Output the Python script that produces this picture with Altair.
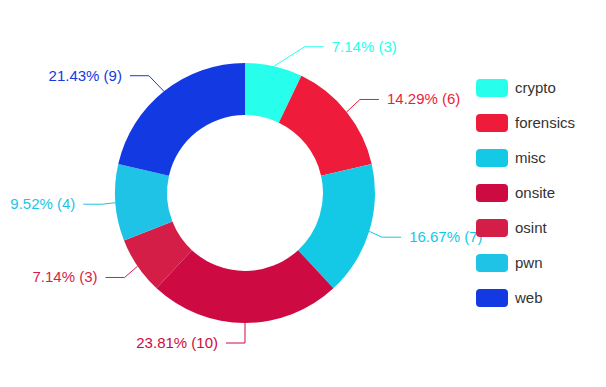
import math
import altair as alt
import pandas as pd

categories = ["crypto", "forensics", "misc", "onsite", "osint", "pwn", "web"]
counts = [3, 6, 7, 10, 3, 4, 9]
colors = ["#28FEEC", "#EE1C3A", "#13C9E6", "#CE0A43", "#D41E48", "#1FC3E6", "#1339E3"]

W, H = 590, 371
CX, CY = 237, 185
R_IN, R_OUT = 78, 130
LEN1, LEN2, GAP = 20, 19, 8
R_TEXT = 170

total = sum(counts)
pie_rows, line_rows, label_rows = [], [], []
cum = 0
for i, (c, n) in enumerate(zip(categories, counts)):
    mid = (cum + n / 2) / total * 2 * math.pi
    cum += n
    s, co = math.sin(mid), -math.cos(mid)
    side = 1 if s > 1e-9 else -1
    sx, sy = CX + R_OUT * s, CY + R_OUT * co
    ly = CY + (R_OUT + LEN1) * co
    dy = abs(ly - CY)
    if dy < R_OUT + LEN1 - 1e-6:
        dxt = math.sqrt(R_TEXT ** 2 - dy ** 2)
    else:
        dxt = LEN2 + GAP
    tx = CX + side * dxt
    ex = tx - side * GAP
    bx = ex - side * LEN2
    pie_rows.append({"category": c, "count": n, "idx": i})
    for k, (px, py) in enumerate([(sx, sy), (bx, ly), (ex, ly)]):
        line_rows.append({"category": c, "pt": k, "x": px, "y": py})
    label_rows.append({"category": c, "x": tx, "y": ly,
                       "side": "right" if side > 0 else "left",
                       "text": f"{n / total * 100:.2f}% ({n})"})

pie_df = pd.DataFrame(pie_rows)
line_df = pd.DataFrame(line_rows)
label_df = pd.DataFrame(label_rows)

color_scale = alt.Scale(domain=categories, range=colors)
xs = alt.Scale(domain=[0, W], nice=False, zero=False)
ys = alt.Scale(domain=[0, H], nice=False, zero=False, reverse=True)

ROUND_RECT = ("M-0.75,-0.5625 L0.75,-0.5625 Q1,-0.5625 1,-0.3125 L1,0.3125 "
              "Q1,0.5625 0.75,0.5625 L-0.75,0.5625 Q-1,0.5625 -1,0.3125 "
              "L-1,-0.3125 Q-1,-0.5625 -0.75,-0.5625 Z")

legend = alt.Legend(orient="none", legendX=468, legendY=64, title=None,
                    symbolType=ROUND_RECT, symbolSize=1024, symbolStrokeWidth=0,
                    symbolOpacity=1, labelFont="Liberation Sans", labelFontSize=15,
                    labelColor="#333333", labelOffset=7, rowPadding=10, padding=0)

arcs = alt.Chart(pie_df).mark_arc(innerRadius=R_IN, outerRadius=R_OUT).encode(
    theta=alt.Theta("count:Q", stack=True),
    color=alt.Color("category:N", scale=color_scale, legend=legend, sort=categories),
    order=alt.Order("idx:Q"),
    x=alt.value(CX),
    y=alt.value(CY),
)

lines = alt.Chart(line_df).mark_line(strokeWidth=1).encode(
    x=alt.X("x:Q", scale=xs, axis=None),
    y=alt.Y("y:Q", scale=ys, axis=None),
    detail="category:N",
    order="pt:Q",
    color=alt.Color("category:N", scale=color_scale, legend=legend, sort=categories),
)

def text_layer(side, align):
    return alt.Chart(label_df).transform_filter(alt.datum.side == side).mark_text(
        font="Liberation Sans", fontSize=15, align=align, baseline="middle"
    ).encode(
        x=alt.X("x:Q", scale=xs, axis=None),
        y=alt.Y("y:Q", scale=ys, axis=None),
        text="text:N",
        color=alt.Color("category:N", scale=color_scale, legend=legend, sort=categories),
    )

chart = alt.layer(
    arcs, lines, text_layer("right", "left"), text_layer("left", "right")
).properties(
    width=W, height=H, padding=0, autosize=alt.AutoSizeParams(type="none")
).configure_view(stroke=None)

chart.save("out.html", embed_options={"renderer": "svg", "actions": False})
